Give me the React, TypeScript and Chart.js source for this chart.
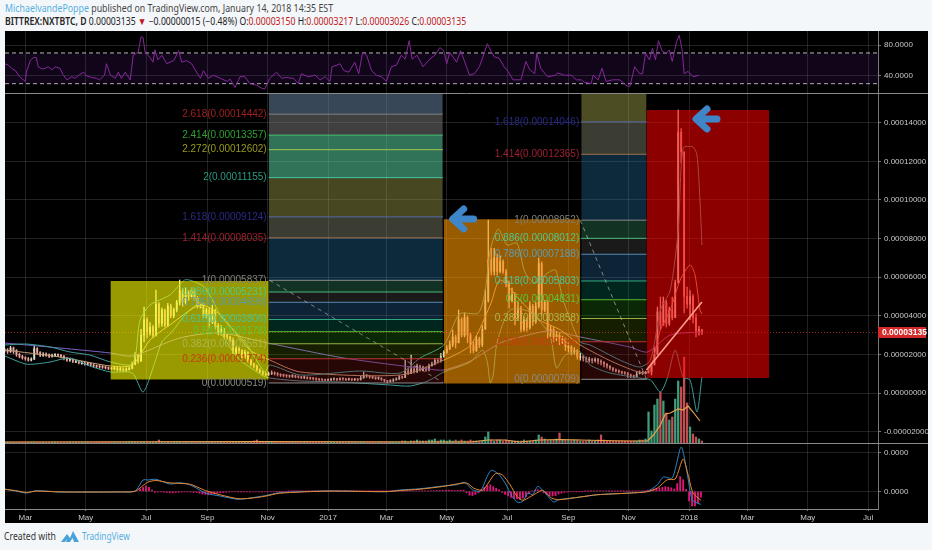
import React, { useEffect, useRef } from "react";
import { Chart, registerables } from "chart.js";

Chart.register(...registerables);

// Time axis: day numbers counted from 1 January 2017
const xTickDays = [-306, -245, -184, -122, -61, 0, 59, 120, 181, 243, 304, 365, 424, 485, 546];
const xTickLabels = ["Mar", "May", "Jul", "Sep", "Nov", "2017", "Mar", "May", "Jul", "Sep", "Nov", "2018", "Mar", "May", "Jul"];

// Prices are in satoshi (1e-8 BTC)
const mainTicks = [-2000, 0, 2000, 4000, 6000, 8000, 10000, 12000, 14000];
const candleFirstDay = -327;
const candleStepDays = 3;
const candleClose = [
  2230,2150,2330,2200,2000,1900,1820,1780,1700,1750,
  2300,2100,1950,2000,1980,1900,1950,1960,1950,1900,
  1820,1700,1720,1640,1640,1560,1560,1500,1520,1450,
  1400,1370,1350,1330,1300,1270,1250,1290,1200,1240,
  1180,1220,1280,1500,1950,1650,3000,3800,3100,3400,
  3000,4600,3600,4300,3500,4500,4000,4300,4700,5300,
  4700,5200,5000,5300,4900,4500,4600,4000,4300,3700,
  4300,3500,3100,3300,3000,2900,2800,2100,2300,2200,
  1900,2100,1700,1500,1400,1200,1100,1000,950,1000,
  1050,1000,960,920,900,880,860,880,840,820,
  790,800,770,750,740,700,690,680,660,680,
  700,720,690,730,720,690,710,680,700,690,
  780,900,880,840,800,760,770,700,640,590,
  620,680,720,830,800,1150,1000,1250,1100,1400,
  1200,1300,1200,1400,1500,1700,1650,1900,2100,2300,
  2500,2900,2600,3800,3000,3900,3000,2500,2200,2800,
  2500,3300,4800,6900,6300,7000,6300,6800,6300,5700,
  4800,5100,3900,4400,3300,3800,3400,4500,3700,4500,
  6700,4300,4700,3200,3300,2900,3000,2700,2800,2400,
  2400,2150,2200,1900,1900,1800,1700,1750,1680,1740,
  1650,1600,1500,1400,1300,1200,1150,1100,1050,1030,
  950,870,850,1000,1050,1000,1060,1100,1450,2000,
  4200,3500,4700,3600,4300,3900,5700,13500,12500,5000,
  4600,5000,3900,3200,3300,3135,
];
const candleHigh = [
  2320,2300,2420,2380,2250,2050,1950,1880,1840,1820,
  2480,2350,2150,2100,2080,2030,2020,2040,2030,2000,
  1950,1830,1800,1750,1710,1680,1640,1600,1580,1550,
  1500,1450,1430,1420,1380,1350,1320,1370,1350,1320,
  1300,1310,1360,1600,2100,2000,3300,4450,3900,3650,
  3500,5335,4700,4400,4350,4650,4600,4400,4800,5853,
  5400,5440,5300,5440,5400,5000,4700,4650,4400,4400,
  4560,4350,3600,3500,3350,3050,2950,2850,2400,2350,
  2250,2227,2150,1750,1550,1450,1250,1150,1050,1080,
  1150,1100,1060,1000,980,950,930,950,930,890,
  860,870,840,820,800,780,750,740,720,740,
  760,780,760,790,780,760,770,750,760,740,
  860,1088,960,920,880,840,830,790,720,650,
  690,740,790,900,880,1709,1300,1968,1400,1500,
  1450,1400,1350,1500,1600,1800,1800,2050,2200,2450,
  2700,3263,3000,4299,3900,4150,4000,3100,2642,2950,
  2900,3500,5335,8961,7511,7500,7200,7100,6900,6400,
  5800,5439,5200,4700,4500,3950,3900,4714,4600,4700,
  6993,6800,4800,4800,3500,3400,3200,3100,2950,2850,
  2600,2450,2350,2250,2050,1950,1880,1850,1800,1820,
  1800,1720,1620,1530,1420,1320,1250,1200,1130,1100,
  1060,980,930,1100,1150,1120,1130,1200,1554,2383,
  4455,4973,4973,4800,4455,4973,5853,14660,13700,10774,
  5490,5300,5100,4100,3450,3260,
];
const candleLow = [
  2120,2050,2100,2050,1900,1820,1750,1700,1650,1660,
  1740,2000,1880,1900,1900,1830,1860,1880,1880,1820,
  1720,1640,1630,1570,1570,1500,1490,1440,1440,1390,
  1340,1310,1280,1270,1240,1210,1190,1210,1140,1150,
  1110,1130,1180,1250,1450,1550,1650,2640,2850,3000,
  2850,2950,3400,3450,3420,3450,3885,3900,4200,4560,
  4500,4560,4800,4920,4800,4400,4400,3885,3885,3367,
  3600,3300,3004,3000,2850,2800,2640,1968,2000,2050,
  1813,1800,1600,1400,1300,1150,1050,932,900,910,
  950,930,880,850,830,810,800,810,790,770,
  740,740,720,700,680,650,640,620,610,620,
  640,660,640,660,660,640,650,620,640,630,
  660,760,800,760,740,700,700,650,570,520,
  560,600,660,700,760,800,950,1000,1030,1050,
  1130,1150,1120,1150,1400,1450,1550,1600,1850,2050,
  2250,2400,2331,2600,2900,2900,2600,2072,2072,2150,
  2350,2400,3300,4700,6112,6100,6100,6216,6200,5500,
  4400,4700,3522,3800,3160,3200,3200,3300,3500,3600,
  4400,4040,4200,2849,2900,2642,2700,2500,2550,2200,
  2124,1968,2000,1750,1700,1650,1600,1600,1550,1600,
  1500,1450,1350,1280,1200,1120,1080,1030,980,960,
  800,790,780,840,980,950,980,1030,932,1554,
  2000,3263,3700,3419,3500,3781,3900,5853,11914,4144,
  4400,3800,3626,2901,3000,3026,
];
// Volume, one value per candle, as a height in the volume overlay's own units
const volumeHeights = [
  1,1,1,1,1,1,1,1,1,1, 1,1,1,1,1,1,1,1,1,1, 1,1,1,1,1,1,1,1,1,1,
  1,1,1,1,1,1,1,1,1,1, 1,1,1,1,1,1,1,1,1,1, 1,1,3,1,1,1,1,1,1,1,
  1,1,1,1,1,1,1,1,1,1, 1,1,1,1,1,1,1,1,1,1, 1,1,1,1,2,3,1,1,1,1,
  1,1,1,1,1,1,1,1,1,1, 1,1,1,1,1,1,1,1,1,1, 1,1,1,1,1,1,1,1,1,1,
  1,1,1,1,1,1,1,1,1,1,
  1,1,1,1,2,2,1,2,2,3,
  2,2,2,3,3,4,2,3,3,2,
  3,2,3,2,3,2,2,3,2,2,
  2,2,6,11,3,2,3,3,2,3,
  2,2,2,2,2,3,2,2,2,3,
  8,6,4,3,3,3,4,10,3,3,
  3,3,3,3,2,2,2,3,2,2,
  3,8,3,2,2,2,2,2,2,2,
  2,2,2,2,3,3,4,31,12,38,
  44,51,42,30,23,26,44,62,56,86,
  40,16,9,6,4,2,
];
const volumeMaDays = [-327,-74,144,162,179,194,214,235,255,275,305,323,329,336,341,346,354,359,364,369,376];
const volumeMaHeights = [1,1.3,1,3,3,1,3,3.5,3,2.5,2,2,8,18,29,30,34,33,37,31,22];

const maLongDays = [-327,-271,-220,-198,-150,-109,-61,16,101,117,144,174,194,224,255,305,323,346,378];
const maLongValues = [2590,2331,2072,1917,2849,3108,2590,1813,1243,1191,1658,2590,2901,3212,2901,2383,2124,3004,3160];
const maMidDays = [-327,-271,-220,-198,-180,-160,-129,-109,-79,-59,-28,73,117,144,164,174,194,214,235,255,295,323,336,346,356,366,371,376,378];
const maMidValues = [2227,1865,1399,1450,2745,3522,4558,4040,2227,1709,1088,932,1709,2486,4558,5853,4817,3781,3263,2486,1450,1088,3263,4299,5853,6630,6112,4299,4092];
const bandUpperDays = [-327,-306,-281,-261,-241,-220,-200,-195,-190,-180,-160,-145,-137,-124,-107,-84,-64,-59,-28,32,73,93,117,133,152,159,164,172,181,191,199,209,222,230,237,245,255,265,295,315,326,336,346,354,359,369,373,376,378];
const bandUpperValues = [2486,2538,2383,2124,1968,1606,1450,1813,3781,4558,5076,5853,5802,5439,3885,2642,1088,1450,932,1140,1036,1813,2486,4092,4144,5335,7407,8495,7666,7770,6268,5698,6216,6371,4921,3781,2642,2486,1709,1347,1709,4299,5335,8443,12691,12743,12328,9997,7666];
const bandLowerDays = [-327,-306,-296,-281,-261,-241,-220,-198,-187,-175,-168,-158,-142,-131,-114,-91,-67,-59,-28,12,63,83,101,117,144,156,161,164,167,171,184,204,224,231,240,255,265,285,315,326,336,343,351,359,366,373,378];
const bandLowerValues = [1917,1502,1502,1606,1813,1399,1088,1036,52,1606,2642,3160,4196,4558,3522,1813,932,777,622,570,414,363,622,1088,1606,2227,1606,518,932,2642,4299,4196,3004,1295,1968,2124,1450,1036,777,673,52,777,2227,829,673,-984,829];

// RSI pane
const rsiDays = [
  -327,-323,-320,-316,-313,-310,-306,-305,-301,-298,-295,-293,-289,-286,-283,-279,-276,-271,-268,-264,
  -259,-256,-251,-247,-244,-239,-234,-231,-226,-224,-220,-215,-212,-209,-205,-200,-197,-192,-189,-187,
  -185,-180,-177,-175,-172,-168,-163,-156,-151,-148,-143,-138,-133,-129,-126,-121,-116,-109,-102,-99,
  -94,-89,-84,-79,-72,-67,-64,-59,-52,-47,-42,-35,-30,-27,-20,-13,-8,-3,2,4,
  9,12,16,21,27,31,35,39,44,49,54,59,64,69,74,78,82,85,90,96,
  103,108,113,117,120,123,130,134,140,143,148,153,158,161,165,168,173,178,182,187,
  192,195,200,204,209,211,215,222,230,232,239,246,251,256,259,266,268,273,277,281,
  288,295,301,305,310,315,318,321,325,328,331,334,338,342,345,348,352,355,358,360,
  364,369,375,
];
const rsiValues = [
  56,54,50,47,41,37,33,45,60,64,64,52,49,50,52,48,52,50,42,35,
  39,37,42,45,40,38,37,35,41,56,41,37,45,37,45,35,67,71,91,90,
  71,64,58,74,61,67,56,60,73,58,60,56,45,37,47,37,41,37,33,36,
  25,39,39,30,28,24,23,37,45,37,38,37,30,43,39,41,35,39,33,52,
  54,56,47,45,58,43,71,67,47,41,39,33,52,54,67,62,86,62,67,52,
  62,67,77,73,56,71,58,73,52,41,43,52,70,82,72,65,63,52,46,35,
  35,35,59,48,43,70,50,39,41,44,41,41,35,35,32,30,41,35,50,33,
  35,35,28,26,52,43,43,70,61,76,61,86,72,70,74,59,83,93,74,43,
  46,39,41,
];
const rsiLevels = [70, 30];
const rsiTicks = [40, 80];

// MACD pane
const macdTicks = [0, 1000];
const macdDays = [-327,-316,-305,-295,-271,-210,-195,-187,-182,-174,-160,-150,-139,-124,-109,-91,-79,-64,-49,0,59,73,93,116,130,138,146,154,161,165,172,179,186,192,197,202,207,212,218,228,233,255,272,305,323,333,339,348,357,363,368,373,377];
const macdValues = [60,8,-44,16,-18,-18,8,293,293,311,189,223,163,-44,-122,-207,-174,-114,-36,8,-10,34,67,137,171,233,41,8,389,544,456,215,-130,-285,-259,-44,-88,130,0,-277,-218,-148,-88,-44,0,171,370,344,1147,474,-218,-303,-337];
const signalDays = [-327,-316,-305,-295,-271,-210,-195,-187,-182,-174,-160,-150,-139,-124,-109,-91,-79,-64,-49,0,59,73,93,116,140,147,156,162,169,176,184,191,197,204,211,217,226,233,255,272,305,323,333,343,351,359,364,369,377];
const signalValues = [50,20,-30,5,-15,-15,0,150,240,280,220,205,180,20,-90,-190,-180,-130,-50,5,-8,20,55,125,215,85,26,215,456,430,171,-130,-233,-148,-44,26,-174,-218,-148,-90,-46,-10,85,300,319,837,430,-44,-233];
const histFirstDay = -190;
const histStepDays = 3;
const histValues = [
  60,100,140,100,30,-30,-20,-10,-25,-30,
  -40,-40,-30,-25,-20,-15,-10,-20,-30,-30,
  -50,-70,-80,-90,-80,-60,-50,-40,-30,-25,
  -20,-15,-15,-10,-10,-15,-15,-20,-15,-15,
  -15,-20,-15,-15,-10,-10,-5,-5,-5,-5,
  3,3,3,3,3,3,3,3,3,3,
  3,3,3,3,3,3,3,3,3,3,
  3,3,3,3,3,3,3,3,3,3,
  5,5,5,5,5,5,5,5,5,5,
  10,10,10,10,12,12,12,12,15,15,
  20,20,25,30,30,25,20,25,30,30,
  -40,-100,-110,-80,-40,50,100,150,170,120,
  80,40,-30,-80,-120,-160,-190,-200,-210,-180,
  -140,-60,10,30,40,20,-40,-80,-110,-120,
  -110,-70,-50,-30,-20,-10,-10,-5,-5,-5,
  5,5,5,8,8,8,8,8,5,5,
  3,3,3,3,3,5,5,5,8,10,
  15,30,40,60,80,90,100,120,110,90,
  60,200,380,300,50,-250,-380,-380,-300,-150,
];

// Fibonacci extensions
const fibARatios = ["0","0.236","0.382","0.5","0.618","0.786","0.886","1","1.414","1.618","2","2.272","2.414","2.618"];
const fibAPrices = [519,1774,2551,3178,3806,4699,5231,5837,8035,9124,11155,12602,13357,14442];
const fibADays = [-60, 116];
const fibBRatios = ["0","0.236","0.382","0.5","0.618","0.786","0.886","1","1.414","1.618"];
const fibBPrices = [709,2654,3858,4831,5803,7188,8012,8952,12365,14046];
const fibBDays = [256, 322];
const levelLineColors = ["#8a8a8a","#c03030","#9ab040","#58b830","#30a880","#5a88b8","#4ab878","#8a8a8a","#a07050","#5a6ea8","#45c8a8","#a8c850","#45c878","#808080"];
const levelTextColors = ["#8a8a80","#c83c10","#aab850","#58c840","#48c498","#5a9cb0","#50c888","#808078","#a02030","#2a2a8a","#2a9a80","#9a9a20","#30a030","#a02020"];
const zoneColors = [
  "rgba(120,20,20,0.32)","rgba(110,150,0,0.2)","rgba(40,160,20,0.25)","rgba(0,150,120,0.25)","rgba(40,120,180,0.3)",
  "rgba(128,128,128,0.2)","rgba(60,170,120,0.3)","rgba(40,130,190,0.32)","rgba(140,145,120,0.42)","rgba(170,170,80,0.42)",
  "rgba(90,210,160,0.55)","rgba(90,210,160,0.55)","rgba(128,128,128,0.5)",
];
const zoneTopColorA = "rgba(100,130,160,0.55)";
const zoneTopColorB = "rgba(170,170,80,0.45)";
const fibTrendA = { days: [-59, 117], prices: [5837, 519] };
const fibTrendB = { days: [255, 322], prices: [8952, 709] };

// Highlight rectangles
const boxDays = [[-220, -60], [117, 255], [322, 446]];
const boxTops = [5800, 9000, 14660];
const boxBottoms = [700, 495, 777];
const boxColors = ["rgba(255,255,0,0.6)", "rgba(255,152,0,0.6)", "rgba(255,0,0,0.55)"];
const riseLineDays = [322, 378];
const riseLineValues = [1191, 4714];
const arrowDays = [126, 372];
const arrowPrices = [9013, 14193];
const lastPrice = 3135;

const xMin = -326.6;
const xMax = 556;
const mainMin = -2590;
const mainMax = 15540;
const volumeUnit = 51.8;

const zip = (xs: number[], ys: any[]) => xs.map((x, i) => ({ x, y: ys[i] }));
const noPadding = (s: any) => { s.paddingTop = 0; s.paddingBottom = 0; s.paddingLeft = 0; s.paddingRight = 0; };
const fixWidth = (s: any) => { s.width = 50; noPadding(s); };

const fibDatasets = (days: number[], prices: number[], topColor: string, order: number) => {
  const out: any[] = [];
  prices.forEach((p, i) => {
    out.push({
      type: "line", yAxisID: "yMain", xAxisID: "x", order, pointRadius: 0,
      data: zip(days, [p, p]), borderColor: levelLineColors[i], borderWidth: 1,
      backgroundColor: i > 0 ? zoneColors[i - 1] : "transparent",
      fill: i > 0 ? { value: prices[i - 1] } : false,
    });
  });
  out.push({
    type: "line", yAxisID: "yMain", xAxisID: "x", order, pointRadius: 0,
    data: zip(days, [mainMax, mainMax]), borderWidth: 0, borderColor: "transparent",
    backgroundColor: topColor, fill: { value: prices[prices.length - 1] },
  });
  return out;
};

const overlayPlugin = {
  id: "overlayPlugin",
  afterDatasetDraw(chart: any, args: any) {
    if (!chart.data.datasets[args.index].drawsFibLabels) return;
    const { ctx, scales } = chart;
    ctx.save();
    ctx.font = '10px "Liberation Sans", Arial, sans-serif';
    ctx.textAlign = "right";
    ctx.textBaseline = "middle";
    const put = (ratios: string[], prices: number[], day: number) => {
      const x = scales.x.getPixelForValue(day) - 2;
      ratios.forEach((r, i) => {
        ctx.fillStyle = levelTextColors[i];
        ctx.fillText(`${r}(${(prices[i] * 1e-8).toFixed(8)})`, x, scales.yMain.getPixelForValue(prices[i]));
      });
    };
    put(fibARatios, fibAPrices, fibADays[0]);
    put(fibBRatios, fibBPrices, fibBDays[0]);
    ctx.restore();
  },
  afterDraw(chart: any) {
    const { ctx, scales, chartArea } = chart;
    ctx.save();
    // pane separators
    ctx.strokeStyle = "#8a8a8a";
    ctx.lineWidth = 1;
    [scales.yRsi.bottom, scales.yMain.bottom].forEach((y: number) => {
      ctx.beginPath();
      ctx.moveTo(chartArea.left, Math.round(y) + 0.5);
      ctx.lineTo(chart.width, Math.round(y) + 0.5);
      ctx.stroke();
    });
    // arrows
    ctx.strokeStyle = "#3f86c8";
    ctx.lineWidth = 7;
    ctx.lineCap = "round";
    ctx.lineJoin = "round";
    arrowDays.forEach((d, i) => {
      const x = scales.x.getPixelForValue(d);
      const y = scales.yMain.getPixelForValue(arrowPrices[i]);
      ctx.beginPath();
      ctx.moveTo(x + 11, y - 10);
      ctx.lineTo(x, y);
      ctx.lineTo(x + 11, y + 10);
      ctx.moveTo(x + 2, y);
      ctx.lineTo(x + 21, y);
      ctx.stroke();
    });
    // last-price tag
    const py = scales.yMain.getPixelForValue(lastPrice);
    const ax = scales.yMain.left;
    ctx.fillStyle = "#d42a2a";
    ctx.fillRect(ax, py - 5.5, 48, 11);
    ctx.fillStyle = "#ffffff";
    ctx.font = 'bold 8.5px "Liberation Sans", Arial, sans-serif';
    ctx.textAlign = "left";
    ctx.textBaseline = "middle";
    ctx.fillText((lastPrice * 1e-8).toFixed(8), ax + 4, py + 0.5);
    ctx.restore();
  },
};

export default function App() {
  const ref = useRef<HTMLCanvasElement>(null);

  useEffect(() => {
    const days = candleClose.map((_, i) => candleFirstDay + i * candleStepDays);
    const opens = candleClose.map((c, i) => (i === 0 ? c : candleClose[i - 1]));
    const candleColors = candleClose.map((c, i) => (c >= opens[i] ? "#dcdccc" : "#eea49c"));
    const volumeColors = candleClose.map((c, i) => (c >= opens[i] ? "#3f9f7c" : "#c44f52"));
    const histDays = histValues.map((_, i) => histFirstDay + i * histStepDays);

    const common = { pointRadius: 0, fill: false, xAxisID: "x", type: "line" };
    const priceLine = (xs: number[], ys: number[], color: string, order: number, extra: any = {}) => ({
      ...common, yAxisID: "yMain", data: zip(xs, ys), borderColor: color, borderWidth: 1, order, ...extra,
    });

    const datasets: any[] = [
      // RSI
      { ...common, yAxisID: "yRsi", order: 60, data: zip([xMin, xMax], [rsiLevels[0], rsiLevels[0]]), borderColor: "#b8b8b8", borderWidth: 1, borderDash: [4, 3], fill: "+1", backgroundColor: "rgba(120,40,180,0.14)" },
      { ...common, yAxisID: "yRsi", order: 60, data: zip([xMin, xMax], [rsiLevels[1], rsiLevels[1]]), borderColor: "#b8b8b8", borderWidth: 1, borderDash: [4, 3] },
      { ...common, yAxisID: "yRsi", order: 59, data: zip(rsiDays, rsiValues), borderColor: "#86279a", borderWidth: 1 },
      // volume
      { type: "bar", xAxisID: "x", yAxisID: "yMain", order: 56, grouped: false, barThickness: 1.6, data: days.map((d, i) => ({ x: d, y: [mainMin, mainMin + volumeHeights[i] * volumeUnit] })), backgroundColor: volumeColors },
      priceLine(volumeMaDays, volumeMaHeights.map((h) => mainMin + h * volumeUnit), "#e8a24c", 55, { borderWidth: 1.2 }),
      // candles
      { type: "bar", xAxisID: "x", yAxisID: "yMain", order: 50, grouped: false, barThickness: 0.7, data: days.map((d, i) => ({ x: d, y: [candleLow[i], candleHigh[i]] })), backgroundColor: candleColors },
      { type: "bar", xAxisID: "x", yAxisID: "yMain", order: 49, grouped: false, barThickness: 1.2, minBarLength: 1, data: days.map((d, i) => ({ x: d, y: [Math.min(opens[i], candleClose[i]), Math.max(opens[i], candleClose[i])] })), backgroundColor: candleColors },
      // overlays
      priceLine(bandUpperDays, bandUpperValues, "#3f9d9d", 45, { tension: 0.25 }),
      priceLine(bandLowerDays, bandLowerValues, "#3f9d9d", 45, { tension: 0.25 }),
      priceLine(maMidDays, maMidValues, "#c8a078", 45, { tension: 0.25 }),
      priceLine(maLongDays, maLongValues, "#7c62c8", 45, { tension: 0.25 }),
      priceLine([xMin, xMax], [lastPrice, lastPrice], "rgba(255,70,70,0.6)", 44, { borderDash: [1, 2] }),
      // Fibonacci extensions
      ...fibDatasets(fibADays, fibAPrices, zoneTopColorA, 40),
      ...fibDatasets(fibBDays, fibBPrices, zoneTopColorB, 40),
      priceLine(fibTrendA.days, fibTrendA.prices, "rgba(205,205,205,0.55)", 39, { borderDash: [4, 4] }),
      priceLine(fibTrendB.days, fibTrendB.prices, "rgba(205,205,205,0.6)", 39, { borderDash: [4, 4] }),
      // highlight rectangles
      ...boxDays.map((b, i) => ({
        ...common, yAxisID: "yMain", order: 30, data: zip(b, [boxTops[i], boxTops[i]]),
        borderWidth: 0, borderColor: "transparent", backgroundColor: boxColors[i], fill: { value: boxBottoms[i] },
      })),
      { ...common, yAxisID: "yMain", order: 25, data: [], drawsFibLabels: true },
      priceLine(riseLineDays, riseLineValues, "#ff9c8c", 20, { borderWidth: 1.6 }),
      // MACD
      { type: "bar", xAxisID: "x", yAxisID: "yMacd", order: 12, grouped: false, barThickness: 1.2, data: zip(histDays, histValues), backgroundColor: "#e0157a" },
      { ...common, yAxisID: "yMacd", order: 11, data: zip(macdDays, macdValues), borderColor: "#2f86c8", borderWidth: 1, tension: 0.25 },
      { ...common, yAxisID: "yMacd", order: 10, data: zip(signalDays, signalValues), borderColor: "#e8872c", borderWidth: 1, tension: 0.25 },
    ];

    const tickFont = { family: '"Liberation Sans", Arial, sans-serif', size: 8 };
    const gridColor = "rgba(255,255,255,0.13)";
    const yBase = {
      type: "linear", position: "right", stack: "panes", afterFit: fixWidth,
      grid: { color: gridColor, tickLength: 3, tickColor: "#777" },
      border: { color: "#777" },
    };

    const chart = new Chart(ref.current as HTMLCanvasElement, {
      type: "bar",
      data: { datasets },
      plugins: [overlayPlugin],
      options: {
        animation: false,
        responsive: false,
        events: [],
        layout: { autoPadding: false, padding: 0 },
        plugins: { legend: { display: false }, tooltip: { enabled: false }, title: { display: false } },
        scales: {
          x: {
            type: "linear", min: xMin, max: xMax, position: "bottom", offset: false,
            afterFit: (s: any) => { s.height = 14; noPadding(s); },
            afterBuildTicks: (s: any) => { s.ticks = xTickDays.map((value) => ({ value })); },
            grid: { color: gridColor, drawTicks: true, tickLength: 2, tickColor: "#777", offset: false },
            border: { color: "#8a8a8a" },
            ticks: {
              color: "#c8c8c8", font: tickFont, maxRotation: 0, autoSkip: false, padding: 2,
              callback: (v: any) => xTickLabels[xTickDays.indexOf(v)] ?? "",
            },
          },
          yRsi: {
            ...yBase, stackWeight: 62, min: 17.85, max: 98.6, weight: 1,
            afterBuildTicks: (s: any) => { s.ticks = rsiTicks.map((value) => ({ value })); },
            ticks: { color: "#c8c8c8", font: tickFont, padding: 3, callback: (v: any) => Number(v).toFixed(4) },
          },
          yMain: {
            ...yBase, stackWeight: 350, min: mainMin, max: mainMax, weight: 2,
            afterBuildTicks: (s: any) => { s.ticks = mainTicks.map((value) => ({ value })); },
            ticks: { color: "#c8c8c8", font: tickFont, padding: 3, autoSkip: false, callback: (v: any) => (Number(v) * 1e-8).toFixed(8) },
          },
          yMacd: {
            ...yBase, stackWeight: 66, min: -458, max: 1251, weight: 3,
            afterBuildTicks: (s: any) => { s.ticks = macdTicks.map((value) => ({ value })); },
            ticks: { color: "#c8c8c8", font: tickFont, padding: 3, callback: () => "0.0000" },
          },
        },
      } as any,
    });
    return () => chart.destroy();
  }, []);

  const font = '"Noto Sans", "Open Sans", sans-serif';
  const squeeze = (k: number) => ({ transform: `scaleX(${k})`, transformOrigin: "left center" });
  return (
    <div style={{ position: "fixed", left: 0, top: 0, width: 932, height: 550, background: "#f4f7fa", overflow: "hidden", fontFamily: font }}>
      <div style={{ position: "absolute", left: 5, top: 1, fontSize: 10.5, lineHeight: "15px", color: "#444", whiteSpace: "nowrap", ...squeeze(0.84) }}>
        <span style={{ color: "#55b0e0" }}>MichaelvandePoppe</span> published on TradingView.com, January 14, 2018 14:35 EST
      </div>
      <div style={{ position: "absolute", left: 5, top: 14, fontSize: 10, lineHeight: "15px", color: "#222", whiteSpace: "nowrap", ...squeeze(0.865) }}>
        <b style={{ fontWeight: 600 }}>BITTREX:NXTBTC, D</b>{"  "}0.00003135 <span style={{ color: "#c01818" }}>▼</span> −0.00000015 (−0.48%) O:<span style={{ color: "#c01818" }}>0.00003150</span> H:<span style={{ color: "#c01818" }}>0.00003217</span> L:<span style={{ color: "#c01818" }}>0.00003026</span> C:<span style={{ color: "#c01818" }}>0.00003135</span>
      </div>
      <canvas ref={ref} width={923} height={492} style={{ position: "absolute", left: 5, top: 31, width: 923, height: 492, background: "#000" }} />
      <div style={{ position: "absolute", left: 4, top: 529, fontSize: 10, lineHeight: "15px", color: "#333", whiteSpace: "nowrap", ...squeeze(0.87) }}>Created with</div>
      <svg style={{ position: "absolute", left: 60, top: 530 }} width="20" height="13" viewBox="0 0 20 13">
        <path d="M1 12 L7 4 L10 8 L13 1 L19 12 L14 12 L12.5 8 L10 12 L6 12 L7 9 L5 12 Z" fill="#4aa3d8" />
      </svg>
      <div style={{ position: "absolute", left: 82, top: 529, fontSize: 10, lineHeight: "15px", color: "#55b0e0", whiteSpace: "nowrap", ...squeeze(0.83) }}>TradingView</div>
    </div>
  );
}
